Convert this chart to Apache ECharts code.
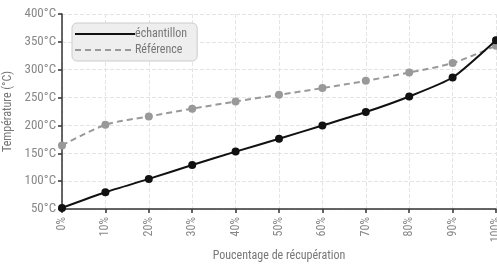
<!DOCTYPE html>
<html>
<head>
<meta charset="utf-8">
<script src="https://cdn.jsdelivr.net/npm/echarts@6/dist/echarts.min.js"></script>
<style>
  html, body { margin: 0; padding: 0; background: #fff; }
  #chart { width: 497px; height: 268px; }
</style>
</head>
<body>
<div id="chart"></div>
<script>
var categories = ['0%', '10%', '20%', '30%', '40%', '50%', '60%', '70%', '80%', '90%', '100%'];
var echantillon = [52, 80, 104, 129, 153, 176, 200, 224, 252, 286, 353];
var reference = [164, 201, 216, 230, 243, 255, 267, 280, 295, 312, 343];

var police = '"Roboto Condensed", "DejaVu Sans Condensed", "Liberation Sans Narrow", "Roboto", sans-serif';

var graphe = echarts.init(document.getElementById('chart'));
graphe.setOption({
    animation: false,
    textStyle: { fontFamily: police },
    grid: { left: 62, right: 1, top: 14, bottom: 59, outerBoundsMode: 'none', containLabel: false },
    legend: {
        left: 72,
        top: 23,
        orient: 'vertical',
        itemWidth: 60,
        itemHeight: 10,
        itemGap: 4,
        padding: [5, 10, 5, 2],
        backgroundColor: '#eeeeee',
        borderColor: '#cccccc',
        borderWidth: 1,
        borderRadius: 5,
        itemStyle: { opacity: 0 },
        textStyle: { color: '#777', fontSize: 12, fontFamily: police, padding: [0, 0, 0, -5] },
        data: ['échantillon', 'Référence']
    },
    xAxis: {
        type: 'category',
        data: categories,
        boundaryGap: false,
        name: 'Poucentage de récupération',
        nameLocation: 'middle',
        nameGap: 40,
        nameTextStyle: { color: '#777', fontSize: 12, fontFamily: police },
        axisLine: { lineStyle: { color: '#333', width: 1.5 } },
        axisTick: { show: true, length: 4, lineStyle: { color: '#333', width: 1.5 } },
        axisLabel: { rotate: 90, color: '#888', fontSize: 12, margin: 8 },
        splitLine: { show: true, lineStyle: { color: '#e4e4e4', type: 'dashed' } }
    },
    yAxis: {
        type: 'value',
        min: 50,
        max: 400,
        interval: 50,
        name: 'Température (°C)',
        nameLocation: 'middle',
        nameGap: 46,
        nameTextStyle: { color: '#777', fontSize: 12, fontFamily: police },
        axisLine: { show: true, lineStyle: { color: '#333', width: 1.5 } },
        axisTick: { show: true, length: 4, lineStyle: { color: '#333', width: 1.5 } },
        axisLabel: { formatter: '{value}°C', color: '#888', fontSize: 13, margin: 6 },
        splitLine: { show: true, lineStyle: { color: '#e4e4e4', type: 'dashed' } }
    },
    series: [
        {
            name: 'échantillon',
            type: 'line',
            data: echantillon,
            smooth: 0.2,
            symbol: 'circle',
            symbolSize: 8,
            itemStyle: { color: '#111' },
            lineStyle: { color: '#111', width: 2 },
            z: 3
        },
        {
            name: 'Référence',
            type: 'line',
            data: reference,
            smooth: 0.3,
            symbol: 'circle',
            symbolSize: 8,
            itemStyle: { color: '#999' },
            lineStyle: { color: '#999', width: 2, type: [6, 4] },
            z: 2
        }
    ]
});
</script>
</body>
</html>
